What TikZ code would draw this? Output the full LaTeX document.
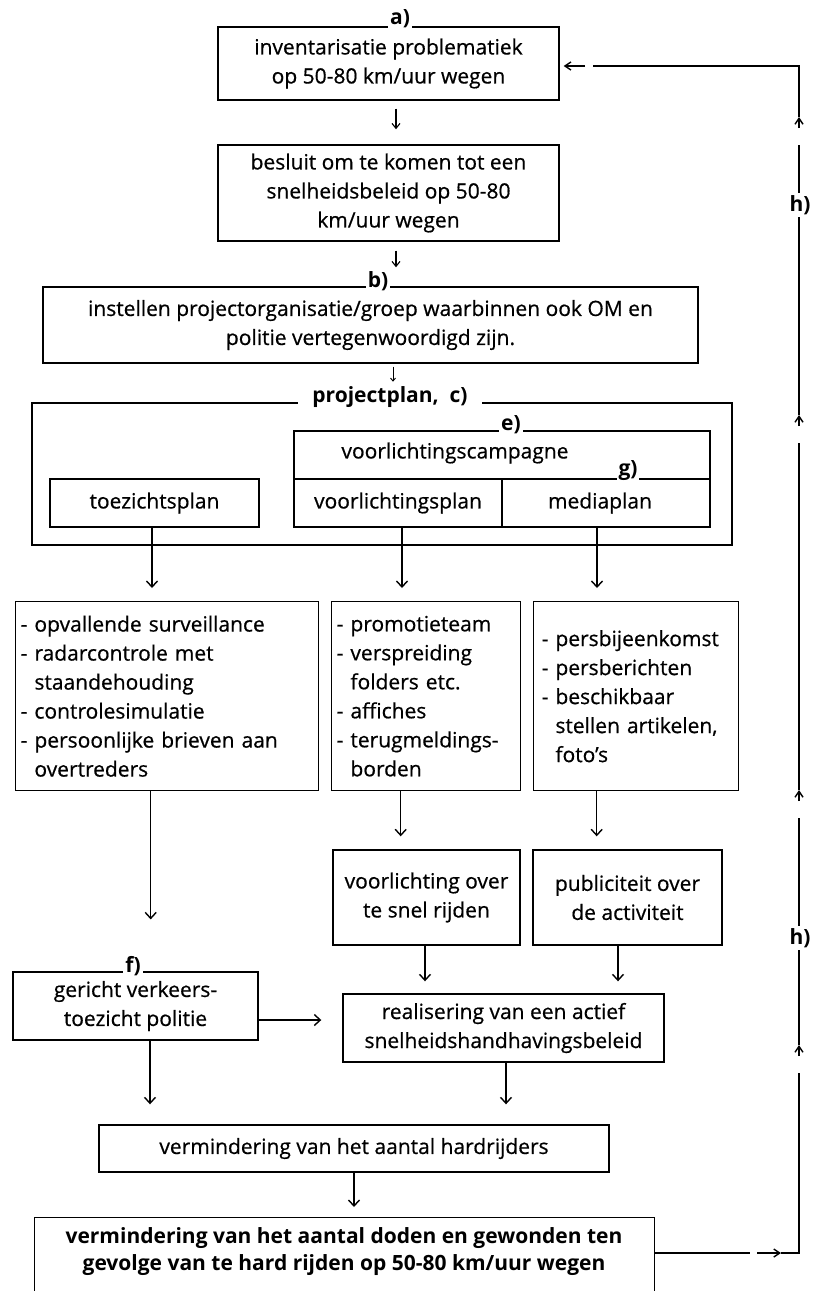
\documentclass[tikz,border=0pt]{standalone}
\usepackage{fontspec}
\setmainfont{Open Sans}[UprightFeatures={FakeBold=0.6}]
\usetikzlibrary{arrows.meta,calc}
\newcommand\fsn{\fontsize{21}{29}\selectfont}
\newcommand\fsbold{\fontsize{21}{27}\selectfont\bfseries}
\newcommand\fslab{\fontsize{21}{24}\selectfont\bfseries}
\begin{document}
\begin{tikzpicture}[x=1pt,y=-1pt,
  box/.style={draw, line width=1.4pt, inner sep=0pt, align=center, font=\fsn},
  lst/.style={draw, line width=1.4pt, inner ysep=0pt, inner xsep=5pt, align=left, font=\fsn},
  lab/.style={fill=white, inner sep=2pt, font=\fslab},
  txt/.style={inner sep=0pt, font=\fsn},
  arr/.style={line width=1.4pt, -{Straight Barb[length=6pt,width=11pt,line width=1.4pt]}},
  sarr/.style={line width=1.1pt, -{Straight Barb[length=5pt,width=8pt,line width=1.1pt]}},
  fb/.style={line width=1.4pt},
  fbarr/.style={line width=1.4pt, -{Straight Barb[length=6pt,width=8pt,line width=1.4pt]}},
]
\useasboundingbox[fill=white] (0,0) rectangle (814,1291);

% top chain
\node[box, minimum width=341pt, minimum height=73pt] (A) at (388.5,63.5) {inventarisatie problematiek\\op 50-80 km/uur wegen};
\node[lab] (la) at (400,19) {a)};
\node[box, minimum width=341pt, minimum height=96pt] (B) at (388.5,193) {besluit om te komen tot een\\snelheidsbeleid op 50-80\\km/uur wegen};
\node[box, minimum width=655pt, minimum height=76pt] (C) at (370.5,325) {instellen projectorganisatie/groep waarbinnen ook OM en\\politie vertegenwoordigd zijn.};
\node[lab] (lb) at (378,281) {b)};

\draw[sarr] ($(A.south)+(7.5,8)$) -- ($(B.north)+(7.5,-15)$);
\draw[sarr] ($(B.south)+(7.5,9)$) -- ($(C.north)+(25.5,-19)$);
\draw[line width=0.9pt, -{Straight Barb[length=3pt,width=5pt,line width=0.9pt]}] ($(C.south)+(22.5,3)$) -- ($(C.south)+(22.5,18)$);

% projectplan
\node[draw, line width=2.6pt, minimum width=700pt, minimum height=142pt, inner sep=0pt] (P) at (382,474) {};
\node[lab, inner xsep=14pt] (lc) at (390,397) {projectplan,\ \ c)};
\node[box, minimum width=209pt, minimum height=48pt] (T) at (154.5,503) {toezichtsplan};
\node[box, minimum width=416pt, minimum height=48pt] (VC) at (502,455) {};
\node[txt] (vct) at (455,453) {voorlichtingscampagne};
\node[box, minimum width=208pt, minimum height=48pt] (VP) at (398,503) {voorlichtingsplan};
\node[box, minimum width=208pt, minimum height=48pt] (MP) at (606,503) {};
\node[txt] (mpt) at (600,503) {mediaplan};
\node[lab] (le) at (511,425) {e)};
\node[lab] (lg) at (628,471) {g)};

% lists
\node[lst, text width=293pt, minimum height=189pt, anchor=north west] (L1) at (15,601)
 {- opvallende surveillance\\- radarcontrole met\\\hphantom{- }staandehouding\\- controlesimulatie\\- persoonlijke brieven aan\\\hphantom{- }overtreders};
\node[lst, text width=179pt, minimum height=189pt, anchor=north west] (L2) at (331,601)
 {- promotieteam\\- verspreiding\\\hphantom{- }folders etc.\\- affiches\\- terugmeldings-\\\hphantom{- }borden};
\node[lst, inner xsep=8pt, text width=189pt, minimum height=189pt, anchor=north west] (L3) at (533,601)
 {- persbijeenkomst\\- persberichten\\- beschikbaar\\\hphantom{- }stellen artikelen,\\\hphantom{- }foto's};

\draw[arr] ($(T.south)+(-2.5,0)$) -- ($(T.south |- L1.north)+(-2.5,-13)$);
\draw[arr] ($(VP.south)+(4,0)$) -- ($(VP.south |- L2.north)+(4,-13)$);
\draw[arr] ($(MP.south)+(-9,0)$) -- ($(MP.south |- L3.north)+(-9,-13)$);

% second level
\node[box, minimum width=187pt, minimum height=95pt] (VO) at (426.5,897.5) {voorlichting over\\te snel rijden};
\node[box, minimum width=189pt, minimum height=95pt] (PU) at (627.5,897.5) {publiciteit over\\de activiteit};
\node[box, minimum width=245pt, minimum height=68pt] (F) at (135.5,1006) {gericht verkeers-\\toezicht politie};
\node[lab] (lf) at (133,966) {f)};
\node[box, minimum width=321pt, minimum height=68pt] (R) at (503.5,1028) {realisering van een actief\\snelheidshandhavingsbeleid};
\node[box, minimum width=510pt, minimum height=47pt] (M) at (354,1148.5) {vermindering van het aantal hardrijders};

\draw[arr] ($(L1.south)+(-16.5,0)$) -- ++(0,128);
\draw[arr] ($(L2.south)+(-25.5,0)$) -- ($(L2.south |- VO.north)+(-25.5,-13)$);
\draw[arr] ($(L3.south)+(-39.5,0)$) -- ($(L3.south |- PU.north)+(-39.5,-13)$);
\draw[arr] ($(VO.south)+(-1.5,0)$) -- ($(VO.south |- R.north)+(-1.5,-12)$);
\draw[arr] ($(PU.south)+(-9.5,0)$) -- ($(PU.south |- R.north)+(-9.5,-12)$);
\draw[arr] ($(F.east)+(0,14)$) -- ($(F.east -| R.west)+(-21,14)$);
\draw[arr] ($(F.south)+(14.5,0)$) -- ($(F.south |- M.north)+(14.5,-20)$);
\draw[arr] ($(R.south)+(2.5,0)$) -- ($(R.south |- M.north)+(2.5,-20)$);

% bottom box (cut off at the page edge)
\node[draw, line width=1.4pt, minimum width=620pt, minimum height=110pt, inner sep=0pt, anchor=north west] (Z) at (34,1217) {};
\node[font=\fsbold, align=center, inner sep=0pt] (zt) at (344,1252) {vermindering van het aantal doden en gewonden ten\\gevolge van te hard rijden op 50-80 km/uur wegen};
\draw[arr] (M.south) -- ($(M.south |- Z.north)+(0,-10)$);

% feedback loop h)
\coordinate (q0) at ($(Z.north east)+(0,36)$);
\coordinate (c1) at (799,1253);
\coordinate (c2) at (799,66);
\coordinate (a0) at ($(A.east)+(4,2.5)$);
\draw[fb] (q0) -- (750,1253);
\draw[fbarr] (757,1253) -- (781,1253);
\draw[fb] (781,1253) -- (c1) -- (799,1073);
\draw[fbarr] (799,1056) -- (799,1045);
\draw[fb] (799,1045) -- (799,818);
\draw[fbarr] (799,801) -- (799,790);
\draw[fb] (799,790) -- (799,443);
\draw[fbarr] (799,426) -- (799,415);
\draw[fb] (799,415) -- (799,145);
\draw[fbarr] (799,128) -- (799,117);
\draw[fb] (799,117) -- (c2) -- (593,66);
\draw[fbarr] (585,66) -- (a0);
\node[lab] (lh1) at (800,205) {h)};
\node[lab] (lh2) at (800,938) {h)};
\end{tikzpicture}
\end{document}
